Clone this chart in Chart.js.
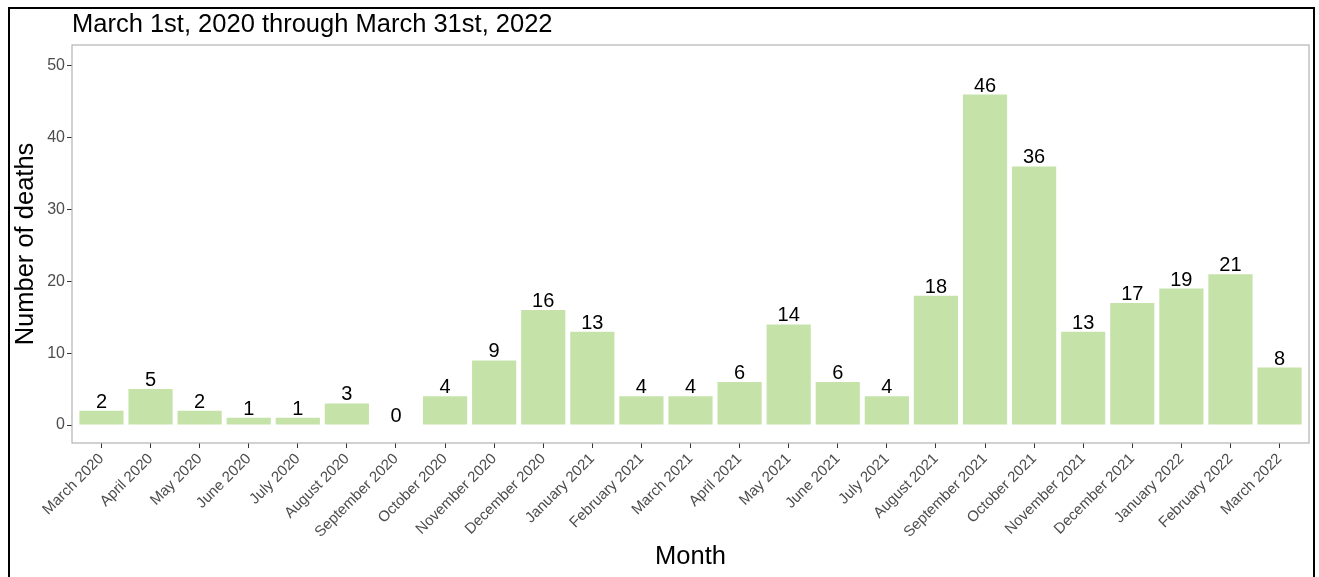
<!DOCTYPE html>
<html>
<head>
<meta charset="utf-8">
<script src="https://cdn.jsdelivr.net/npm/chart.js@4"></script>
<style>
  body { margin: 0; background: #fff; }
  #wrap { position: relative; width: 1319px; height: 577px; }
  #frame {
    position: absolute; left: 8px; top: 7px; width: 1303px; height: 568px;
    border: 2px solid #000; border-bottom: 1px solid #d0d0d0; pointer-events: none;
  }
</style>
</head>
<body>
<div id="wrap">
  <canvas id="chart" width="1319" height="577"></canvas>
  <div id="frame"></div>
</div>
<script>
// Data
const months = ['March 2020', 'April 2020', 'May 2020', 'June 2020', 'July 2020', 'August 2020',
  'September 2020', 'October 2020', 'November 2020', 'December 2020', 'January 2021',
  'February 2021', 'March 2021', 'April 2021', 'May 2021', 'June 2021', 'July 2021',
  'August 2021', 'September 2021', 'October 2021', 'November 2021', 'December 2021',
  'January 2022', 'February 2022', 'March 2022'];
const deaths = [2, 5, 2, 1, 1, 3, 0, 4, 9, 16, 13, 4, 4, 6, 14, 6, 4, 18, 46, 36, 13, 17, 19, 21, 8];
const yTicks = [0, 10, 20, 30, 40, 50];
const titleText = 'March 1st, 2020 through March 31st, 2022';

const FONT = '"Liberation Sans", Arial, sans-serif';

// panel border + plot title
const panelPlugin = {
  id: 'panel',
  afterDraw(chart) {
    const { ctx, chartArea: a } = chart;
    ctx.save();
    ctx.strokeStyle = '#b3b3b3';
    ctx.lineWidth = 1.2;
    ctx.strokeRect(a.left, a.top, a.right - a.left, a.bottom - a.top);
    ctx.fillStyle = '#000';
    ctx.font = '25.5px ' + FONT;
    ctx.textBaseline = 'alphabetic';
    ctx.textAlign = 'left';
    ctx.fillText(titleText, a.left, 32);
    ctx.restore();
  }
};

// numbers above bars
const labelPlugin = {
  id: 'barLabels',
  afterDatasetsDraw(chart) {
    const { ctx } = chart;
    const meta = chart.getDatasetMeta(0);
    ctx.save();
    ctx.fillStyle = '#000';
    ctx.font = '20px ' + FONT;
    ctx.textAlign = 'center';
    ctx.textBaseline = 'alphabetic';
    meta.data.forEach((bar, i) => {
      ctx.fillText(String(deaths[i]), bar.x, bar.y - 3);
    });
    ctx.restore();
  }
};

new Chart(document.getElementById('chart'), {
  type: 'bar',
  data: {
    datasets: [{
      data: deaths.map((v, i) => ({ x: i, y: v })),
      backgroundColor: '#c5e3a8',
      barPercentage: 0.9,
      categoryPercentage: 1.0,
    }],
  },
  plugins: [panelPlugin, labelPlugin],
  options: {
    responsive: false,
    animation: false,
    layout: { padding: { left: 10, right: 10, top: 45, bottom: 0 } },
    plugins: { legend: { display: false }, tooltip: { enabled: false } },
    scales: {
      x: {
        type: 'linear',
        offset: false,
        min: -0.6,
        max: 24.6,
        afterBuildTicks: (scale) => { scale.ticks = months.map((m, i) => ({ value: i })); },
        afterFit: (scale) => { scale.height = 134; },
        grid: { offset: false, drawOnChartArea: false, drawTicks: true, tickLength: 5, color: '#333' },
        border: { display: false },
        ticks: {
          autoSkip: false,
          minRotation: 45,
          maxRotation: 45,
          padding: 2,
          color: '#4d4d4d',
          font: { family: FONT, size: 15 },
          callback: (v) => months[v],
        },
        title: {
          display: true,
          text: 'Month',
          color: '#000',
          font: { family: FONT, size: 25.5 },
          padding: { top: 0, bottom: 5 },
        },
      },
      y: {
        min: -2.5,
        max: 52.9,
        afterBuildTicks: (scale) => { scale.ticks = yTicks.map(v => ({ value: v })); },
        afterFit: (scale) => { scale.width = 62; },
        grid: { drawOnChartArea: false, drawTicks: true, tickLength: 5, color: '#333' },
        border: { display: false },
        ticks: {
          padding: 2,
          color: '#4d4d4d',
          font: { family: FONT, size: 16 },
        },
        title: {
          display: true,
          text: 'Number of deaths',
          color: '#000',
          font: { family: FONT, size: 25.5 },
          padding: { top: 1, bottom: 0 },
        },
      },
    },
  },
});
</script>
</body>
</html>
